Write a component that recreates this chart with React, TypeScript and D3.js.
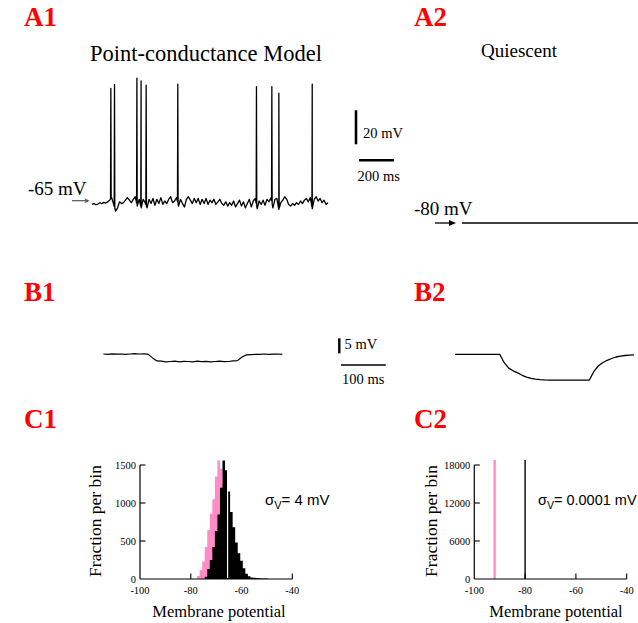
import React from 'react';
import * as d3 from 'd3';

// ---------- DATA ----------
// A1: point-conductance model membrane potential (mV), sampled every 11.25 ms
const a1Dt = 11.25;
const a1Trace = [
  -67, -66.5, -67.2, -66.8, -66, -66.6, -65.8, -66.2, -65.5, -64.5,
  -63, -67, -71, -69, -65.5, -66.5, -66, -64.5, -63, -64.5,
  -66, -64, -62.5, -68, -64, -69, -64, -66, -69, -64,
  -66.5, -63.5, -67.5, -64, -66.5, -63, -67, -65, -66.5, -64,
  -62.5, -66, -65, -63, -68, -64, -66.5, -68.5, -64, -62.5,
  -64.5, -66.5, -63.5, -66, -63.5, -67, -64, -66.5, -63.5, -67,
  -64.5, -66, -64, -67, -65.5, -64, -66.5, -67.5, -65.5, -68,
  -66, -67.5, -65, -68.5, -66.5, -64.5, -68, -65.5, -69, -66.5,
  -64, -68.5, -65, -63.5, -69.5, -65, -67, -64.5, -67.5, -64,
  -65.5, -63, -69, -64, -63.5, -70, -66, -64.5, -62.5, -64,
  -67, -68, -66.5, -67.5, -66, -67, -65, -66.5, -64.5, -63.5,
  -65.5, -63, -69.5, -64, -62.5, -65, -63.5, -66, -64.5, -67, -66,
];
const a1SpikeTimes = [107, 128, 256, 280, 309, 490, 940, 1028, 1068, 1259];
const a1SpikePeaks = [1.3, 3.6, 7.2, 5.6, 3.2, 3.8, 2.2, 2.2, -1.6, 3.8];
const a1Rest = -65;

// A2: quiescent cell
const a2Times = [0, 1350];
const a2Values = [-80, -80];
const a2Rest = -80;

// B1/B2: responses to hyperpolarising current step (mV relative to rest), every 10 ms
const bDt = 10;
const b1Trace = [
  0.1, 0.0, 0.15, 0.05, 0.1, -0.05, 0.1, 0.2, 0.1, 0.15,
  0.05, -1.2, -2.2, -2.3, -2.5, -2.4, -2.3, -2.5, -2.35, -2.4,
  -2.5, -2.3, -2.45, -2.35, -2.5, -2.4, -2.3, -2.45, -2.4, -2.2,
  -2.1, -0.9, -0.2, -0.1, 0.0, -0.05, 0.1, 0.0, 0.05, 0.1, 0.0,
];
const b2Trace = [
  0, 0, 0, 0, 0, 0, 0, 0, 0, 0,
  0, -2.8, -4.6, -5.5, -6.2, -7.0, -7.6, -8.0, -8.3, -8.45,
  -8.55, -8.6, -8.6, -8.6, -8.6, -8.6, -8.6, -8.6, -8.6, -8.6,
  -8.6, -5.8, -3.9, -2.8, -2.0, -1.4, -0.9, -0.6, -0.4, -0.3, -0.2,
];

// C1: membrane potential histograms (1 mV bins)
const c1Bins = [
  -77, -76, -75, -74, -73, -72, -71, -70, -69, -68, -67, -66, -65, -64,
  -63, -62, -61, -60, -59, -58, -57, -56, -55, -54, -53, -52, -51, -50,
];
const c1Black = [
  0, 0, 0, 30, 130, 250, 420, 630, 850, 1200, 1560, 1430, 1150, 880,
  680, 480, 340, 240, 140, 70, 35, 20, 15, 12, 10, 8, 8, 6,
];
const c1Pink = [
  40, 120, 230, 420, 640, 860, 1050, 1350, 1560, 1450, 1250, 950, 680, 450,
  270, 140, 60, 20, 0, 0, 0, 0, 0, 0, 0, 0, 0, 0,
];
const c1Mean = -65.5;

// C2: quiescent histograms (single bins)
const c2Values = [-92, -80];
const c2Counts = [18800, 18800];

const xTicks = [-100, -80, -60, -40];
const c1YTicks = [0, 500, 1000, 1500];
const c2YTicks = [0, 6000, 12000, 18000];

const PINK = '#ff8cc6';
const RED = '#ff0000';
const SERIF = '"Liberation Serif", "Times New Roman", serif';
const SANS = '"Liberation Sans", Arial, sans-serif';

// ---------- HELPERS ----------
function lerpTrace(values: number[], dt: number, t: number) {
  const i = Math.min(values.length - 2, Math.max(0, Math.floor(t / dt)));
  const f = (t - i * dt) / dt;
  return values[i] + (values[i + 1] - values[i]) * f;
}

function stepPoints(bins: number[], counts: number[]): [number, number][] {
  const pts: [number, number][] = bins.map((b, i) => [b - 0.5, counts[i]]);
  pts.push([bins[bins.length - 1] + 0.5, counts[counts.length - 1]]);
  return pts;
}

export default function App() {
  // A1
  const xA1 = d3.scaleLinear().domain([0, 1350]).range([92, 328]);
  const yA1 = d3.scaleLinear().domain([a1Rest, a1Rest + 20]).range([201, 201 - 34]);
  const a1Pts: [number, number][] = a1Trace.map((v, i) => [i * a1Dt, v]);
  a1SpikeTimes.forEach((t, k) => {
    a1Pts.push([t - 1, lerpTrace(a1Trace, a1Dt, t - 1)]);
    a1Pts.push([t + 0.8, a1SpikePeaks[k]]);
    a1Pts.push([t + 2.6, lerpTrace(a1Trace, a1Dt, t + 2.6)]);
  });
  a1Pts.sort((a, b) => a[0] - b[0]);
  const lineA1 = d3.line<[number, number]>().x((d) => xA1(d[0])).y((d) => yA1(d[1]));

  // A2
  const xA2 = d3.scaleLinear().domain([0, 1350]).range([462, 698]);
  const yA2 = d3.scaleLinear().domain([a2Rest, a2Rest + 20]).range([223, 223 - 34]);
  const lineA2 = d3
    .line<number>()
    .x((_, i) => xA2(a2Times[i]))
    .y((d) => yA2(d));

  // B1/B2
  const xB1 = d3.scaleLinear().domain([0, 400]).range([103.3, 282.3]);
  const xB2 = d3.scaleLinear().domain([0, 400]).range([455, 634]);
  const yB = d3.scaleLinear().domain([0, 5]).range([354.3, 339.3]);
  const lineB1 = d3.line<number>().x((_, i) => xB1(i * bDt)).y((d) => yB(d));
  const lineB2 = d3.line<number>().x((_, i) => xB2(i * bDt)).y((d) => yB(d));

  // C scales
  const xC1 = d3.scaleLinear().domain([-100, -40]).range([140, 292.3]);
  const yC1 = d3.scaleLinear().domain([0, 1500]).range([579, 465]);
  const xC2 = d3.scaleLinear().domain([-100, -40]).range([474.3, 626.7]);
  const yC2 = d3.scaleLinear().domain([0, 18000]).range([579, 465]);

  const histArea = d3
    .area<[number, number]>()
    .x((d) => xC1(d[0]))
    .y0(yC1(0))
    .y1((d) => yC1(d[1]))
    .curve(d3.curveStepAfter);

  const axes = (xs: any, ys: any, yTicks: number[], key: string) => (
    <g key={key} fontFamily={SERIF} fontSize={10.5} fill="#000">
      <line x1={xs(-100)} x2={xs(-40)} y1={ys(0)} y2={ys(0)} stroke="#000" strokeWidth={1.2} />
      <line x1={xs(-100)} x2={xs(-100)} y1={ys(0)} y2={ys(yTicks[yTicks.length - 1])} stroke="#000" strokeWidth={1.2} />
      {xTicks.map((t) => (
        <g key={'x' + t}>
          {t !== -100 && (
            <line x1={xs(t)} x2={xs(t)} y1={ys(0)} y2={ys(0) - 5.5} stroke="#000" strokeWidth={1.1} />
          )}
          <text x={xs(t)} y={ys(0) + 14.5} textAnchor="middle">
            {t}
          </text>
        </g>
      ))}
      {yTicks.map((t) => (
        <g key={'y' + t}>
          {t !== 0 && (
            <line x1={xs(-100)} x2={xs(-100) + 5.5} y1={ys(t)} y2={ys(t)} stroke="#000" strokeWidth={1.1} />
          )}
          <text x={xs(-100) - 4} y={ys(t) + 3.5} textAnchor="end">
            {t}
          </text>
        </g>
      ))}
    </g>
  );

  const panelLabel = (txt: string, x: number, y: number) => (
    <text x={x} y={y} fill={RED} fontFamily={SERIF} fontWeight="bold" fontSize={27}>
      {txt}
    </text>
  );

  return (
    <svg
      width={638}
      height={623}
      style={{ position: 'absolute', left: 0, top: 0, background: '#fff' }}
    >
      <defs>
        <clipPath id="page">
          <rect x={0} y={0} width={638} height={623} />
        </clipPath>
        <clipPath id="c1clip">
          <rect x={130} y={460} width={170} height={120} />
        </clipPath>
        <clipPath id="c2clip">
          <rect x={470} y={460} width={170} height={120} />
        </clipPath>
      </defs>

      {panelLabel('A1', 24, 26)}
      {panelLabel('A2', 414, 26)}
      {panelLabel('B1', 24, 301)}
      {panelLabel('B2', 414, 301)}
      {panelLabel('C1', 24, 428)}
      {panelLabel('C2', 414, 428)}

      {/* A1 */}
      <text x={206} y={61} textAnchor="middle" fontFamily={SERIF} fontSize={22.5}>
        Point-conductance Model
      </text>
      <path d={lineA1(a1Pts) || ''} fill="none" stroke="#000" strokeWidth={1.3} strokeLinejoin="round" />
      <text x={28} y={195} fontFamily={SERIF} fontSize={19}>
        -65 mV
      </text>
      <line x1={72} x2={88} y1={yA1(a1Rest) - 0.3} y2={yA1(a1Rest) - 0.3} stroke="#555" strokeWidth={1.2} />
      <path
        d={`M ${89.5} ${yA1(a1Rest) - 0.3} l -5 -2.5 l 1.2 2.5 l -1.2 2.5 Z`}
        fill="#555"
      />
      {/* A1 scale bars */}
      <line x1={356} x2={356} y1={144.3} y2={144.3 - (yA1(a1Rest) - yA1(a1Rest + 20))} stroke="#000" strokeWidth={2.6} />
      <text x={363} y={137.5} fontFamily={SERIF} fontSize={14.5}>
        20 mV
      </text>
      <line x1={359} x2={359 + (xA1(200) - xA1(0))} y1={160.2} y2={160.2} stroke="#000" strokeWidth={2.5} />
      <text x={357.5} y={181} fontFamily={SERIF} fontSize={14.5}>
        200 ms
      </text>

      {/* A2 */}
      <text x={519} y={57} textAnchor="middle" fontFamily={SERIF} fontSize={19}>
        Quiescent
      </text>
      <text x={414} y={215} fontFamily={SERIF} fontSize={19}>
        -80 mV
      </text>
      <line x1={435} x2={451} y1={yA2(a2Rest)} y2={yA2(a2Rest)} stroke="#000" strokeWidth={1.3} />
      <path d={`M ${456} ${yA2(a2Rest)} l -7 -3 l 0 6 Z`} fill="#000" />
      <g clipPath="url(#page)">
        <path d={lineA2(a2Values) || ''} fill="none" stroke="#000" strokeWidth={1.3} />
      </g>

      {/* B1 */}
      <path d={lineB1(b1Trace) || ''} fill="none" stroke="#000" strokeWidth={1.2} strokeLinejoin="round" />
      <line x1={339.3} x2={339.3} y1={353.3} y2={353.3 - (yB(0) - yB(5))} stroke="#000" strokeWidth={2.4} />
      <text x={344.5} y={349} fontFamily={SERIF} fontSize={14.5}>
        5 mV
      </text>
      <line x1={341} x2={341 + (xB1(100) - xB1(0))} y1={365} y2={365} stroke="#000" strokeWidth={1.5} />
      <text x={342} y={383.5} fontFamily={SERIF} fontSize={14.5}>
        100 ms
      </text>

      {/* B2 */}
      <g clipPath="url(#page)">
        <path d={lineB2(b2Trace) || ''} fill="none" stroke="#000" strokeWidth={1.3} strokeLinejoin="round" />
      </g>

      {/* C1 */}
      <g clipPath="url(#c1clip)">
        <path d={histArea(stepPoints(c1Bins, c1Pink)) || ''} fill={PINK} />
        <path d={histArea(stepPoints(c1Bins, c1Black)) || ''} fill="#000" />
        <line x1={xC1(c1Mean)} x2={xC1(c1Mean)} y1={yC1(0) - 1} y2={yC1(1700)} stroke="#fff" strokeWidth={1.2} />
      </g>
      {axes(xC1, yC1, c1YTicks, 'c1axes')}
      <text x={265} y={505} fontFamily={SANS} fontSize={15}>
        σ<tspan fontSize={11} dy={4}>V</tspan>
        <tspan dy={-4}>= 4 mV</tspan>
      </text>
      <text transform="translate(100.5,521) rotate(-90)" textAnchor="middle" fontFamily={SERIF} fontSize={17.5}>
        Fraction per bin
      </text>
      <text x={219} y={616.5} textAnchor="middle" fontFamily={SERIF} fontSize={16.5}>
        Membrane potential
      </text>

      {/* C2 */}
      <g clipPath="url(#c2clip)">
        {c2Values.map((v, i) => (
          <line
            key={'c2' + v}
            x1={xC2(v)}
            x2={xC2(v)}
            y1={yC2(0)}
            y2={yC2(c2Counts[i])}
            stroke={i === 0 ? PINK : '#000'}
            strokeWidth={i === 0 ? 2.4 : 1.4}
          />
        ))}
      </g>
      {axes(xC2, yC2, c2YTicks, 'c2axes')}
      <text x={538} y={505} fontFamily={SANS} fontSize={14.5}>
        σ<tspan fontSize={10.5} dy={4}>V</tspan>
        <tspan dy={-4}>= 0.0001 mV</tspan>
      </text>
      <text transform="translate(436.5,521) rotate(-90)" textAnchor="middle" fontFamily={SERIF} fontSize={17.5}>
        Fraction per bin
      </text>
      <text x={556} y={616.5} textAnchor="middle" fontFamily={SERIF} fontSize={16.5}>
        Membrane potential
      </text>
    </svg>
  );
}
